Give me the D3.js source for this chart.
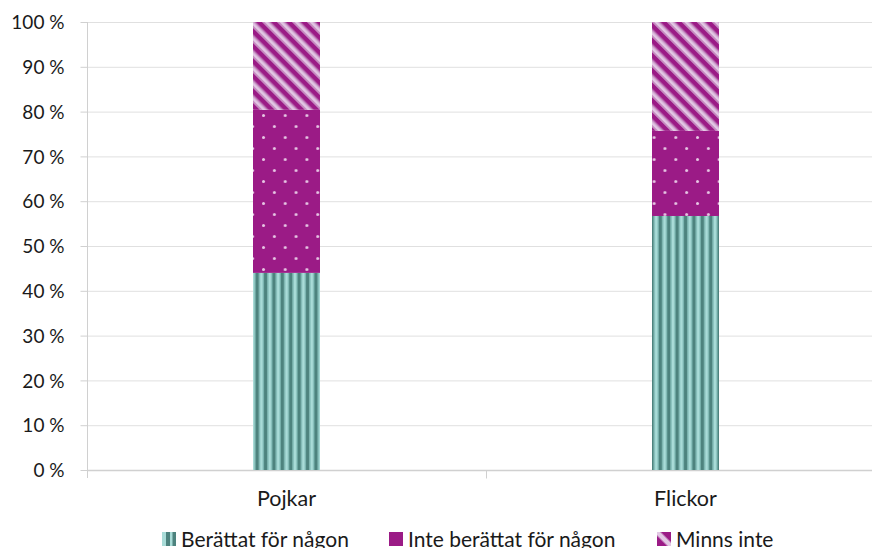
<!DOCTYPE html>
<html><head><meta charset="utf-8">
<script src="https://cdn.jsdelivr.net/npm/d3@7"></script>
<style>
body{margin:0;background:#fff;}
text{font-family:Lato,"Open Sans",sans-serif;fill:#1a1a1a;}
</style></head>
<body><svg id="c" width="872" height="548"></svg>
<script>
const categories = ["Pojkar", "Flickor"];
const seriesNames = ["Berättat för någon", "Inte berättat för någon", "Minns inte"];
const berattat = [44.0, 56.7];
const inteBerattat = [36.4, 19.0];
const minnsInte = [19.6, 24.3];
const yTicks = [0,10,20,30,40,50,60,70,80,90,100];

(function(){
const svg = d3.select("#c");
const defs = svg.append("defs");

// pattern: vertical stripes
const p1 = defs.append("pattern").attr("id","pat0").attr("patternUnits","userSpaceOnUse")
  .attr("width",8.4).attr("height",10).attr("x",252);
p1.append("rect").attr("width",8.4).attr("height",10).attr("fill","#a9dcd8");
p1.append("rect").attr("x",2.4).attr("width",1.2).attr("height",10).attr("fill","#77b3ae");
p1.append("rect").attr("x",3.6).attr("width",3.4).attr("height",10).attr("fill","#4d837e");
p1.append("rect").attr("x",7.0).attr("width",1.0).attr("height",10).attr("fill","#77b3ae");

// pattern: dots
const p2 = defs.append("pattern").attr("id","pat1").attr("patternUnits","userSpaceOnUse")
  .attr("width",21.7).attr("height",22).attr("x",262).attr("y",4);
p2.append("rect").attr("width",21.7).attr("height",22).attr("fill","#9b1b86");
p2.append("circle").attr("cx",1.5).attr("cy",1.5).attr("r",1.5).attr("fill","#e6c6e3");
p2.append("circle").attr("cx",12.35).attr("cy",12.5).attr("r",1.5).attr("fill","#e6c6e3");

// pattern: diagonal stripes "\"
const p3 = defs.append("pattern").attr("id","pat2").attr("patternUnits","userSpaceOnUse")
  .attr("width",10.6).attr("height",10.6).attr("patternTransform","rotate(-45)");
p3.append("rect").attr("width",10.6).attr("height",10.6).attr("fill","#9b1b86");
p3.append("rect").attr("x",0).attr("width",1.5).attr("height",10.6).attr("fill","#c48bc0");
p3.append("rect").attr("x",1.5).attr("width",3.2).attr("height",10.6).attr("fill","#e2c8e4");
p3.append("rect").attr("x",4.7).attr("width",1.5).attr("height",10.6).attr("fill","#c48bc0");

const legX = [162, 389, 657];
const legY = 532, sw = 14;

// legend swatch patterns
const lp1 = defs.append("pattern").attr("id","lpat0").attr("patternUnits","userSpaceOnUse")
  .attr("width",sw).attr("height",sw).attr("x",legX[0]);
lp1.append("rect").attr("width",sw).attr("height",sw).attr("fill","#a9dcd8");
lp1.append("rect").attr("x",4).attr("width",4).attr("height",sw).attr("fill","#4d837e");
lp1.append("rect").attr("x",10.5).attr("width",3.5).attr("height",sw).attr("fill","#4d837e");
const lp3 = defs.append("pattern").attr("id","lpat2").attr("patternUnits","userSpaceOnUse")
  .attr("width",20).attr("height",20).attr("x",legX[2]-3).attr("y",legY-3)
  .attr("patternTransform",`rotate(-45 ${legX[2]+sw/2} ${legY+sw/2})`);
lp3.append("rect").attr("width",20).attr("height",20).attr("fill","#9b1b86");
lp3.append("rect").attr("x",7.5).attr("width",5).attr("height",20).attr("fill","#e2c8e4");

const fills = ["url(#pat0)","url(#pat1)","url(#pat2)"];
const legendFills = ["url(#lpat0)","#9b1b86","url(#lpat2)"];

const mLeft = 87, mRight = 885, mTop = 22, mBottom = 470;
const x = d3.scaleBand().domain(categories).range([mLeft, mRight]);
const y = d3.scaleLinear().domain([0,100]).range([mBottom, mTop]);

// gridlines
svg.append("g").selectAll("line").data(yTicks.filter(d=>d>0)).join("line")
  .attr("x1",mLeft).attr("x2",872).attr("y1",d=>y(d)+0.5).attr("y2",d=>y(d)+0.5)
  .attr("stroke","#e0e0e0").attr("stroke-width",1);

// y axis
const yAxis = d3.axisLeft(y).tickValues(yTicks).tickSize(7).tickPadding(16).tickFormat(d=>d+" %");
const gy = svg.append("g").attr("transform",`translate(${mLeft+0.5},0)`).call(yAxis);
gy.select(".domain").attr("stroke","#d0d0d0").attr("d",`M0,${mTop}V${mBottom+8}`);
gy.selectAll(".tick line").attr("stroke","#d0d0d0");
gy.selectAll(".tick text").attr("font-size",19).attr("fill","#1a1a1a").attr("dy","0.35em")
  .style("font-family","Lato,'Open Sans',sans-serif");

// x axis
const gx = svg.append("g").attr("transform",`translate(0,${mBottom+0.5})`);
gx.append("line").attr("x1",mLeft).attr("x2",872).attr("stroke","#d0d0d0").attr("stroke-width",1.5);
gx.selectAll("line.t").data([categories[1]]).join("line").attr("class","t")
  .attr("x1",d=>x(d)+0.5).attr("x2",d=>x(d)+0.5).attr("y1",0).attr("y2",8).attr("stroke","#d0d0d0");
gx.selectAll("text").data(categories).join("text")
  .attr("x",d=>x(d)+x.bandwidth()/2).attr("y",35).attr("text-anchor","middle")
  .attr("font-size",21.5).text(d=>d);

// stacked bars
const rows = categories.map((c,i)=>({cat:c, s0:berattat[i], s1:inteBerattat[i], s2:minnsInte[i]}));
const stack = d3.stack().keys(["s0","s1","s2"])(rows);
const barW = 67;
svg.append("g").selectAll("g").data(stack).join("g")
  .attr("fill",(d,i)=>fills[i])
  .selectAll("rect").data(d=>d).join("rect")
  .attr("x",d=>x(d.data.cat)+x.bandwidth()/2-barW/2)
  .attr("width",barW)
  .attr("y",d=>y(d[1]))
  .attr("height",d=>y(d[0])-y(d[1]));

// legend
const lg = svg.append("g");
seriesNames.forEach((n,i)=>{
  lg.append("rect").attr("x",legX[i]).attr("y",legY).attr("width",sw).attr("height",sw).attr("fill",legendFills[i]);
  lg.append("text").attr("x",legX[i]+19).attr("y",547).attr("font-size",21).text(n);
});
})();
</script></body></html>
